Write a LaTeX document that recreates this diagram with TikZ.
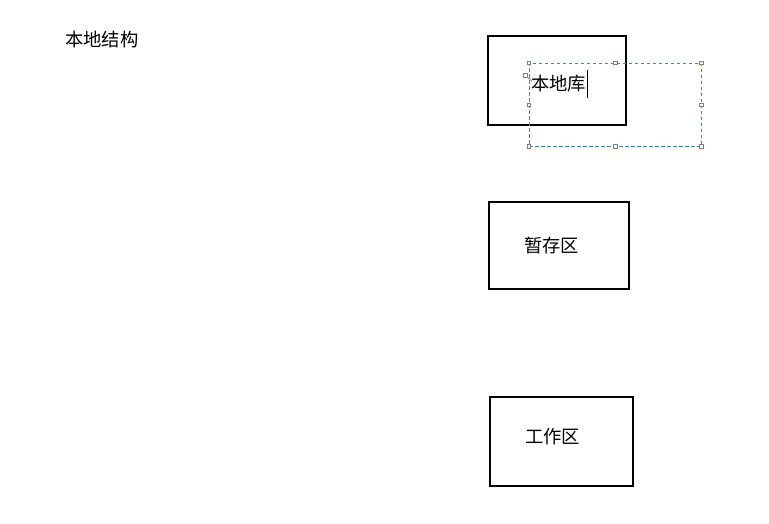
\documentclass[tikz,border=0pt]{standalone}
\usepackage{fontspec}
\setmainfont{Noto Sans CJK SC}
\usetikzlibrary{positioning}
\definecolor{selblue}{RGB}{70,130,180}

\begin{document}
\begin{tikzpicture}[x=1pt, y=-1pt,
    area/.style={draw, line width=2.2pt, rectangle, inner sep=0pt},
    label/.style={font=\fontsize{18.3}{20}\selectfont, inner sep=0pt, anchor=west},
    selbox/.style={draw=selblue, dash pattern=on 3.5pt off 2.5pt, line width=0.7pt, rectangle, inner sep=0pt},
    handle/.style={draw=gray, fill=white, line width=0.5pt, rectangle, minimum size=3.5pt, inner sep=0pt}]
  \useasboundingbox (0,0) rectangle (769,523);
  % title
  \node[label] (title) at (65,40) {本地结构};
  % three areas
  \node[area, minimum width=138pt, minimum height=89pt] (repo)  at (557,80.5)  {};
  \node[area, minimum width=140pt, minimum height=87pt] (stage) at (559,245.5) {};
  \node[area, minimum width=143pt, minimum height=89pt] (work)  at (561.5,441.5) {};
  \node[label] (stagetext) at (524,246) {暂存区};
  \node[label] (worktext)  at (525,437) {工作区};
  % text being edited
  \node[selbox, minimum width=172pt, minimum height=83pt] (sel) at (615,104.5) {};
  \foreach \a in {north west, north, north east, west, east, south west, south, south east}
    \node[handle] at (sel.\a) {};
  \node[label] (repotext) at (531,84) {本地库};
  \coordinate (cur1) at (587,70);
  \coordinate (cur2) at (587,98);
  \draw[line width=0.9pt] (cur1) -- (cur2);
  % move icon
  \node[draw=gray, line width=0.6pt, minimum size=4pt, inner sep=0pt] (mv) at (525,75) {};
  \coordinate (mvend) at (532,81);
  \draw[gray, line width=0.8pt] (mv.south east) -- (mvend);
\end{tikzpicture}
\end{document}
